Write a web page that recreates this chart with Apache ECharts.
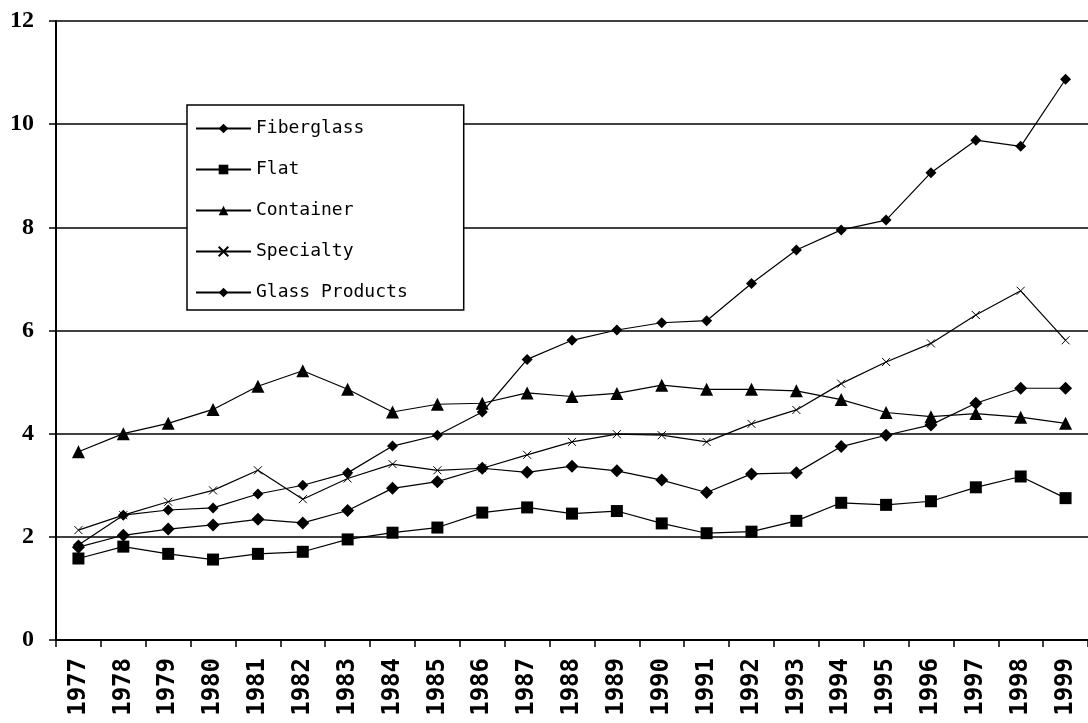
<!DOCTYPE html>
<html>
<head>
<meta charset="utf-8">
<script src="https://cdn.jsdelivr.net/npm/echarts@6/dist/echarts.min.js"></script>
<style>html,body{margin:0;padding:0;background:#fff}#c{width:1088px;height:723px}</style>
</head>
<body>
<div id="c"></div>
<script>
var years = ['1977','1978','1979','1980','1981','1982','1983','1984','1985','1986','1987','1988','1989','1990','1991','1992','1993','1994','1995','1996','1997','1998','1999'];
var fiberglass = [1.84, 2.42, 2.52, 2.56, 2.83, 3.00, 3.24, 3.76, 3.97, 4.42, 5.44, 5.81, 6.01, 6.15, 6.19, 6.91, 7.56, 7.95, 8.14, 9.06, 9.69, 9.57, 10.87];
var flat = [1.58, 1.81, 1.67, 1.56, 1.67, 1.71, 1.95, 2.08, 2.18, 2.47, 2.57, 2.45, 2.50, 2.26, 2.07, 2.10, 2.31, 2.66, 2.62, 2.69, 2.96, 3.17, 2.75];
var container = [3.65, 4.00, 4.20, 4.47, 4.92, 5.22, 4.86, 4.42, 4.57, 4.59, 4.79, 4.72, 4.78, 4.94, 4.86, 4.86, 4.83, 4.66, 4.41, 4.33, 4.39, 4.32, 4.20];
var specialty = [2.13, 2.42, 2.68, 2.90, 3.29, 2.73, 3.13, 3.41, 3.29, 3.33, 3.59, 3.84, 3.99, 3.97, 3.84, 4.19, 4.46, 4.97, 5.39, 5.75, 6.30, 6.77, 5.81];
var glassProducts = [1.80, 2.03, 2.15, 2.23, 2.34, 2.27, 2.51, 2.94, 3.07, 3.33, 3.25, 3.37, 3.28, 3.10, 2.86, 3.22, 3.24, 3.75, 3.97, 4.17, 4.59, 4.88, 4.88];
var seriesNames = ['Fiberglass', 'Flat', 'Container', 'Specialty', 'Glass Products'];

var chart = echarts.init(document.getElementById('c'));
function mk(name, data, symbol, size, extra) {
  var s = {
    name: name, type: 'line', data: data, symbol: symbol, symbolSize: size,
    showAllSymbol: true,
    lineStyle: { color: '#000', width: 1.2 },
    itemStyle: { color: '#000' },
    emphasis: { disabled: true },
    animation: false
  };
  if (extra) { for (var k in extra) s[k] = extra[k]; }
  return s;
}
chart.setOption({
  backgroundColor: '#fff',
  animation: false,
  grid: { left: 56, top: 21, width: 1040, height: 619, containLabel: false },
  legend: {
    orient: 'vertical',
    left: 187, top: 105,
    padding: [14, 56, 8, 8],
    itemGap: 22,
    itemWidth: 55, itemHeight: 12,
    backgroundColor: '#fff',
    borderColor: '#000', borderWidth: 1.5, borderRadius: 0,
    textStyle: { fontFamily: 'DejaVu Sans Mono', fontSize: 18, color: '#000', lineHeight: 19 },
    data: seriesNames
  },
  xAxis: {
    type: 'category', data: years, boundaryGap: true,
    axisLine: { show: true, lineStyle: { color: '#000', width: 2 } },
    axisTick: { show: true, length: 7, alignWithLabel: false, lineStyle: { color: '#000', width: 1.5 } },
    axisLabel: { rotate: 90, margin: 18, interval: 0, fontFamily: 'DejaVu Sans Mono', fontWeight: 'bold', fontSize: 24, color: '#000' },
    splitLine: { show: false }
  },
  yAxis: {
    type: 'value', min: 0, max: 12, interval: 2,
    axisLine: { show: true, lineStyle: { color: '#000', width: 2 } },
    axisTick: { show: true, length: 7, lineStyle: { color: '#000', width: 1.5 } },
    axisLabel: { margin: 22, fontFamily: 'Liberation Serif', fontWeight: 'bold', fontSize: 24, color: '#000' },
    splitLine: { show: true, lineStyle: { color: '#000', width: 1.5 } }
  },
  series: [
    mk(seriesNames[0], fiberglass, 'diamond', 11),
    mk(seriesNames[1], flat, 'rect', 12),
    mk(seriesNames[2], container, 'triangle', 13),
    mk(seriesNames[3], specialty, 'path://M0,0L10,10M10,0L0,10', 8, {
      itemStyle: { color: '#000', borderColor: '#000', borderWidth: 1 }
    }),
    mk(seriesNames[4], glassProducts, 'diamond', 13)
  ]
});
</script>
</body>
</html>
